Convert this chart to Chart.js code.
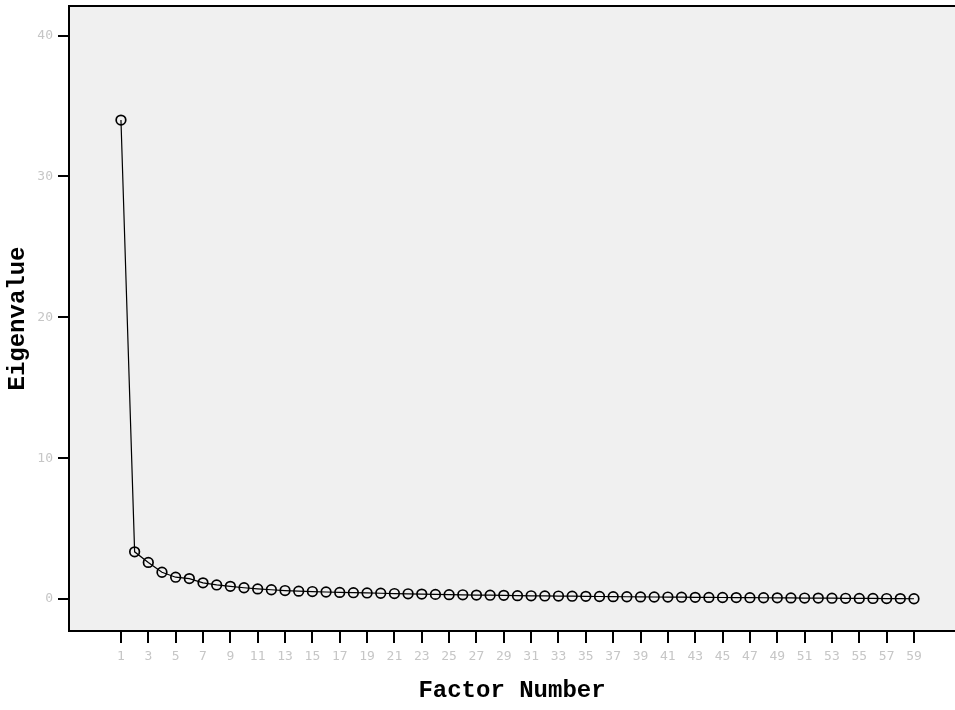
<!DOCTYPE html>
<html><head><meta charset="utf-8">
<script src="https://cdn.jsdelivr.net/npm/chart.js@4"></script>
<style>html,body{margin:0;padding:0;background:#fff}#wrap{width:955px;height:710px}</style>
</head><body><div id="wrap"><canvas id="c" width="955" height="710"></canvas></div>
<script>
const factorNumbers = [1,2,3,4,5,6,7,8,9,10,11,12,13,14,15,16,17,18,19,20,21,22,23,24,25,26,27,28,29,30,31,32,33,34,35,36,37,38,39,40,41,42,43,44,45,46,47,48,49,50,51,52,53,54,55,56,57,58,59];
const eigenvalues = [34.0,3.35,2.6,1.9,1.55,1.45,1.15,1.0,0.9,0.8,0.72,0.66,0.6,0.56,0.53,0.5,0.47,0.45,0.43,0.41,0.39,0.37,0.35,0.33,0.31,0.3,0.28,0.27,0.26,0.24,0.23,0.22,0.21,0.2,0.19,0.18,0.17,0.16,0.15,0.145,0.14,0.13,0.12,0.115,0.11,0.1,0.095,0.09,0.085,0.08,0.07,0.065,0.06,0.05,0.045,0.04,0.035,0.03,0.02];
const xTickLabels = [1,3,5,7,9,11,13,15,17,19,21,23,25,27,29,31,33,35,37,39,41,43,45,47,49,51,53,55,57,59];
const yTickLabels = [0,10,20,30,40];

const bgPlugin = {
  id:'bg',
  beforeDraw(chart){
    const {ctx, chartArea:a} = chart;
    ctx.save();
    ctx.fillStyle = '#f0f0f0';
    ctx.fillRect(a.left, a.top, a.right - a.left, a.bottom - a.top);
    ctx.restore();
  },
  afterDatasetsDraw(chart){
    const {ctx, chartArea:a} = chart;
    ctx.save();
    ctx.strokeStyle = '#000';
    ctx.lineWidth = 2;
    ctx.beginPath();
    ctx.moveTo(a.left, a.top);
    ctx.lineTo(a.right, a.top);
    ctx.stroke();
    ctx.restore();
  }
};

new Chart(document.getElementById('c'), {
  type: 'line',
  data: {
    datasets: [{
      data: factorNumbers.map((f,i)=>({x:f, y:eigenvalues[i]})),
      borderColor: '#000',
      borderWidth: 1.2,
      pointStyle: 'circle',
      pointRadius: 4.8,
      pointBorderWidth: 1.7,
      pointBorderColor: '#000',
      pointBackgroundColor: 'rgba(0,0,0,0)',
      tension: 0,
      fill: false
    }]
  },
  options: {
    responsive: false,
    animation: false,
    layout: { autoPadding: false, padding: { top: 6, right: 0, left: 0, bottom: 0 } },
    plugins: { legend: { display:false }, tooltip: { enabled:false } },
    scales: {
      x: {
        type: 'linear',
        min: -2.8, max: 62,
        afterBuildTicks(s){ s.ticks = xTickLabels.map(v=>({value:v})); },
        afterFit(s){ s.height = 79; s.paddingLeft = 0; s.paddingRight = 0; },
        grid: { drawOnChartArea:false, drawTicks:true, tickLength: 12, color:'#000', lineWidth: 2 },
        border: { color:'#000', width:2 },
        ticks: { color:'#c6c6c6', font:{ family:'DejaVu Sans Mono', size:13 }, padding: 6, maxRotation:0, autoSkip:false,
          callback:v=>String(v) },
        title: { display:true, text:'Factor Number', color:'#000', font:{ family:'Liberation Mono', size:24, weight:'bold' }, padding:{ top:0, bottom:5 } }
      },
      y: {
        type: 'linear',
        min: -2.27, max: 42.1,
        afterBuildTicks(s){ s.ticks = yTickLabels.map(v=>({value:v})); },
        afterFit(s){ s.width = 69; s.paddingTop = 0; s.paddingBottom = 0; },
        grid: { drawOnChartArea:false, drawTicks:true, tickLength: 11, color:'#000', lineWidth: 2 },
        border: { color:'#000', width:2 },
        ticks: { color:'#c6c6c6', font:{ family:'DejaVu Sans Mono', size:13 }, padding: 5, callback:v=>String(v) },
        title: { display:true, text:'Eigenvalue', color:'#000', font:{ family:'Liberation Mono', size:24, weight:'bold' }, padding:{ top:4, bottom:0 } }
      }
    }
  },
  plugins: [bgPlugin]
});
</script>
</body></html>
